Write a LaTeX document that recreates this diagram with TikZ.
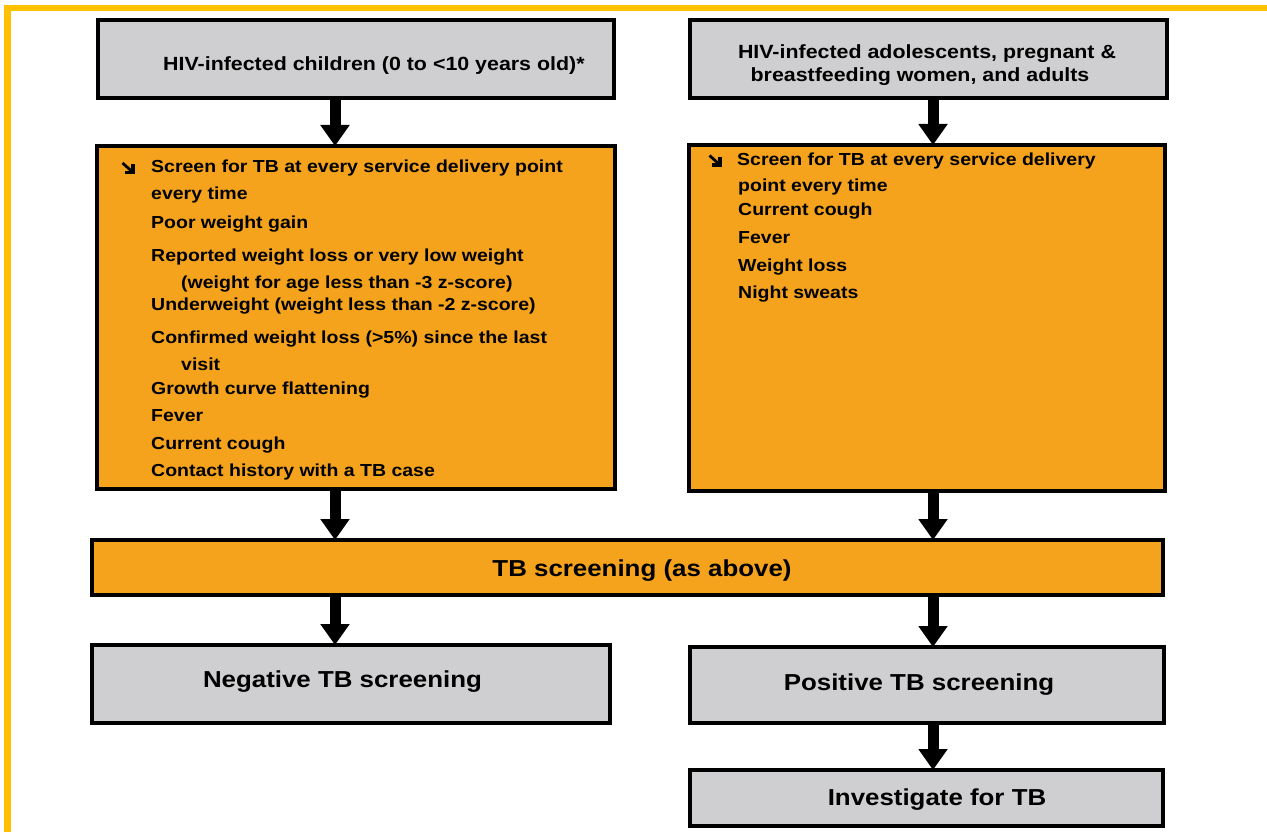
\documentclass[tikz,border=0pt]{standalone}
\usepackage{fontspec}
\setmainfont{Liberation Sans}
\newfontfamily\widesans[FakeStretch=1.12]{Liberation Sans}
\usetikzlibrary{arrows.meta}

\definecolor{framegold}{HTML}{FFC000}
\definecolor{boxgray}{HTML}{CFCFD1}
\definecolor{boxorange}{HTML}{F5A31C}

\tikzset{
  panel/.style={draw=black, line width=4.5pt, rectangle, inner sep=0pt, outer sep=0pt},
  graypanel/.style={panel, fill=boxgray},
  orangepanel/.style={panel, fill=boxorange},
  flowarrow/.style={line width=11pt, -{Triangle[width=28pt,length=21pt]}},
  headtext/.style={font=\widesans\bfseries\fontsize{19.1}{22}\selectfont, inner sep=0pt, anchor=base},
  itemtext/.style={font=\widesans\bfseries\fontsize{17.4}{20}\selectfont, inner sep=0pt, anchor=base west},
  bigtext/.style={font=\widesans\bfseries\fontsize{23.1}{26}\selectfont, inner sep=0pt, anchor=base},
  bulletstem/.style={draw=black, line width=2.8pt},
  bullethead/.style={draw=black, line width=3.2pt, miter limit=10},
  goldframe/.style={draw=framegold, line width=6.5pt}
}

% heavy south-east arrow used as a list bullet
\newcommand{\searrowbullet}[1]{%
  \begin{scope}[shift={(#1)}]
    \draw[bulletstem] (-5.5,-4.5) -- (4,4);
    \draw[bullethead] (5,-3) -- (5,5) -- (-3,5);
  \end{scope}}

\begin{document}
\begin{tikzpicture}[x=1pt, y=-1pt]
\useasboundingbox (0,0) rectangle (1267,832);

% outer frame (left and top sides)
\draw[goldframe] (7.5,832) -- (7.5,8) -- (1267,8);

% column axes for the connectors
\coordinate (colL) at (335,0);
\coordinate (colR) at (933,0);

% header boxes
\node[graypanel, minimum width=516pt, minimum height=78pt] (hl) at (356,59) {};
\node[graypanel, minimum width=477pt, minimum height=78pt] (hr) at (928.5,59) {};
\node[headtext, anchor=base west] (hlt) at (163,71) {HIV-infected children (0 to <10 years old)*};
\node[headtext] (hrt1) at (927,59) {HIV-infected adolescents, pregnant \&};
\node[headtext] (hrt2) at (920,82) {breastfeeding women, and adults};

% symptom boxes
\node[orangepanel, minimum width=518pt, minimum height=343pt] (ol) at (356,317.5) {};
\node[orangepanel, minimum width=476pt, minimum height=346pt] (or) at (927,318) {};

% children symptom list
\coordinate (bl) at (128,167.5);
\searrowbullet{bl}
\node[itemtext] (l1) at (151,172) {Screen for TB at every service delivery point};
\node[itemtext] (l2) at (151,200) {every time};
\node[itemtext] (l3) at (151,228) {Poor weight gain};
\node[itemtext] (l4) at (151,261) {Reported weight loss or very low weight};
\node[itemtext] (l5) at (181,288) {(weight for age less than -3 z-score)};
\node[itemtext] (l6) at (151,310) {Underweight (weight less than -2 z-score)};
\node[itemtext] (l7) at (151,343) {Confirmed weight loss (>5\%) since the last};
\node[itemtext] (l8) at (181,370) {visit};
\node[itemtext] (l9) at (151,394) {Growth curve flattening};
\node[itemtext] (l10) at (151,421) {Fever};
\node[itemtext] (l11) at (151,449) {Current cough};
\node[itemtext] (l12) at (151,476) {Contact history with a TB case};

% adult symptom list
\coordinate (br) at (715,160);
\searrowbullet{br}
\node[itemtext] (r1) at (737,166) {Screen for TB at every service delivery};
\node[itemtext] (r2) at (738,192) {point every time};
\node[itemtext] (r3) at (738,215) {Current cough};
\node[itemtext] (r4) at (738,243) {Fever};
\node[itemtext] (r5) at (738,271) {Weight loss};
\node[itemtext] (r6) at (738,298) {Night sweats};

% screening bar
\node[orangepanel, minimum width=1071pt, minimum height=55pt] (scr) at (627.5,567.5) {};
\node[bigtext] (scrt) at (642,576) {TB screening (as above)};

% outcome boxes
\node[graypanel, minimum width=518pt, minimum height=78pt] (neg) at (351,684) {};
\node[bigtext] (negt) at (342.5,687) {Negative TB screening};
\node[graypanel, minimum width=474pt, minimum height=76pt] (pos) at (927,685) {};
\node[bigtext] (post) at (919,690) {Positive TB screening};
\node[graypanel, minimum width=473pt, minimum height=56pt] (inv) at (926.5,798) {};
\node[bigtext] (invt) at (937,805) {Investigate for TB};

% connectors
\draw[flowarrow] (hl.south -| colL) -- (ol.north -| colL);
\draw[flowarrow] (hr.south -| colR) -- (or.north -| colR);
\draw[flowarrow] (ol.south -| colL) -- (scr.north -| colL);
\draw[flowarrow] (or.south -| colR) -- (scr.north -| colR);
\draw[flowarrow] (scr.south -| colL) -- (neg.north -| colL);
\draw[flowarrow] (scr.south -| colR) -- (pos.north -| colR);
\draw[flowarrow] (pos.south -| colR) -- (inv.north -| colR);
\end{tikzpicture}
\end{document}
